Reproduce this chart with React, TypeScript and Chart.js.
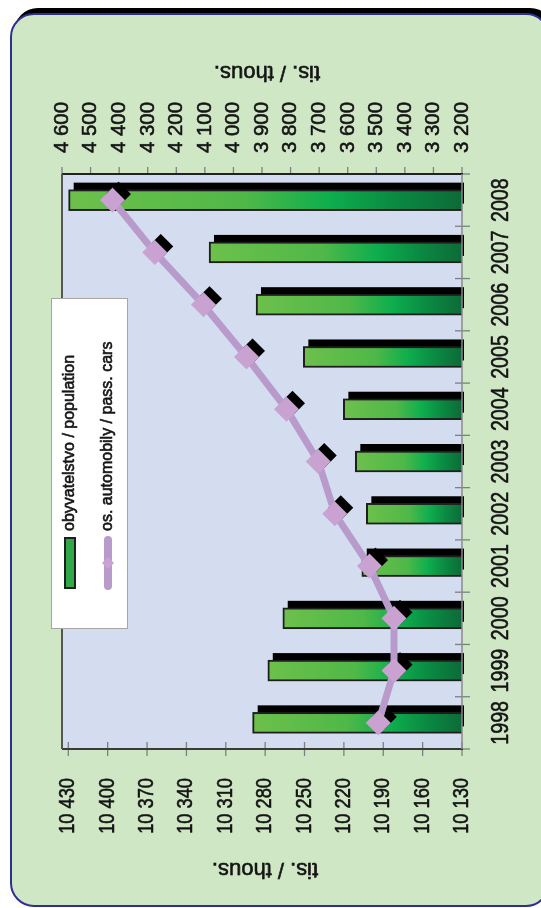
import React, { useEffect, useRef } from 'react';
import { Chart, registerables } from 'chart.js';

Chart.register(...registerables);

// ---- data ----
const years = ['1998', '1999', '2000', '2001', '2002', '2003', '2004', '2005', '2006', '2007', '2008'];
const population = [10289.5, 10278, 10266.6, 10206.4, 10202.9, 10211.3, 10220.4, 10250.9, 10287, 10322.8, 10429.7];
const passengerCars = [3493, 3438, 3438, 3524, 3645, 3703, 3814, 3954, 4105, 4275, 4423];
const populationTicks = [10130, 10160, 10190, 10220, 10250, 10280, 10310, 10340, 10370, 10400, 10430];
const carTicks = [3200, 3300, 3400, 3500, 3600, 3700, 3800, 3900, 4000, 4100, 4200, 4300, 4400, 4500, 4600];
const populationRange = [10130, 10434.8];
const carRange = [3200, 4600];
const seriesLabels = ['obyvatelstvo / population', 'os. automobily / pass. cars'];
const unitTitle = 'tis. / thous.';

// ---- layout (chart is drawn unrotated, then turned 90° counter-clockwise) ----
const W = 908;
const H = 541;
const AREA = { left: 159, right: 734, top: 62, bottom: 462 };
const REGULAR = "'Liberation Sans', Arial, sans-serif";
const TEXT = '#141414';
const LINE_COLOR = '#b99bcb';
const MARK_COLOR = '#c9a2d2';

const fmt = (v: number) => String(Math.round(v)).replace(/\B(?=(\d{3})+(?!\d))/g, ' ');

function barGradient(c: any, top: number, base: number) {
  const g = c.createLinearGradient(0, top, 0, base);
  g.addColorStop(0, '#6dc04b');
  g.addColorStop(0.45, '#4fb848');
  g.addColorStop(0.66, '#0eae4e');
  g.addColorStop(0.83, '#0a8a42');
  g.addColorStop(1, '#0d6a38');
  return g;
}

function diamond(ctx: CanvasRenderingContext2D, x: number, y: number, r: number) {
  ctx.beginPath();
  ctx.moveTo(x, y - r);
  ctx.lineTo(x + r, y);
  ctx.lineTo(x, y + r);
  ctx.lineTo(x - r, y);
  ctx.closePath();
  ctx.fill();
}

// condensed, slightly heavier text: horizontal squeeze of a regular face
function squeezedText(
  ctx: CanvasRenderingContext2D,
  text: string,
  x: number,
  y: number,
  size: number,
  sx: number,
  align: CanvasTextAlign
) {
  ctx.save();
  ctx.translate(x, y);
  ctx.scale(sx, 1);
  ctx.font = `${size}px ${REGULAR}`;
  ctx.textAlign = align;
  ctx.textBaseline = 'middle';
  ctx.fillStyle = TEXT;
  ctx.strokeStyle = TEXT;
  ctx.lineWidth = 0.6;
  ctx.fillText(text, 0, 0);
  ctx.strokeText(text, 0, 0);
  ctx.restore();
}

const decor = {
  id: 'decor',
  beforeDraw(chart: any) {
    const { ctx, chartArea: a } = chart;
    ctx.save();
    ctx.fillStyle = '#d3ddef';
    ctx.fillRect(a.left, a.top, a.right - a.left, a.bottom - a.top);
    ctx.restore();
  },
  beforeDatasetDraw(chart: any, args: any) {
    const { ctx, chartArea: a } = chart;
    const meta = args.meta;
    ctx.save();
    ctx.fillStyle = '#000';
    if (meta.type === 'bar') {
      ctx.beginPath();
      ctx.rect(a.left, a.top, a.right - a.left, a.bottom - a.top + 2);
      ctx.clip();
      meta.data.forEach((el: any) => {
        const { x, y, base, width } = el.getProps(['x', 'y', 'base', 'width'], true);
        ctx.fillRect(x - width / 2 + 7, y + 5, width, base - y);
      });
    } else if (meta.type === 'line') {
      meta.data.forEach((el: any) => {
        const { x, y } = el.getProps(['x', 'y'], true);
        diamond(ctx, x + 6, y + 6, 12.5);
      });
    }
    ctx.restore();
  },
  afterDatasetsDraw(chart: any) {
    const { ctx, chartArea: a } = chart;
    const xs = chart.scales.x;
    const yp = chart.scales.yPop;
    const yc = chart.scales.yCar;
    const seg = (x1: number, y1: number, x2: number, y2: number) => {
      ctx.beginPath();
      ctx.moveTo(x1, y1);
      ctx.lineTo(x2, y2);
      ctx.stroke();
    };
    ctx.save();
    // tick marks
    ctx.strokeStyle = '#7f7f7f';
    ctx.lineWidth = 1.3;
    const step = xs.getPixelForTick(1) - xs.getPixelForTick(0);
    for (let i = 0; i <= years.length; i++) {
      const px = xs.getPixelForTick(0) - step / 2 + i * step;
      seg(px, a.bottom - 7, px, a.bottom + 8);
    }
    yp.ticks.forEach((t: any) => {
      const py = yp.getPixelForValue(t.value);
      seg(a.left - 7, py, a.left + 7, py);
    });
    yc.ticks.forEach((t: any) => {
      const py = yc.getPixelForValue(t.value);
      seg(a.right, py, a.right + 7, py);
    });
    // plot frame
    ctx.lineWidth = 2;
    ctx.strokeStyle = '#3a3a3a';
    seg(a.left, a.top, a.left, a.bottom + 1);
    ctx.strokeStyle = '#222';
    seg(a.right, a.top, a.right, a.bottom + 1);
    ctx.strokeStyle = '#555';
    seg(a.left, a.top, a.right, a.top);
    ctx.strokeStyle = '#8a8a8a';
    ctx.lineWidth = 1.5;
    seg(a.left, a.bottom, a.right, a.bottom);
    ctx.restore();
  },
  afterDraw(chart: any) {
    const { ctx, chartArea: a } = chart;
    const xs = chart.scales.x;
    const yp = chart.scales.yPop;
    const yc = chart.scales.yCar;
    ctx.save();
    // tick labels (condensed face)
    yp.ticks.forEach((t: any) => {
      squeezedText(ctx, fmt(t.value), a.left - 29, yp.getPixelForValue(t.value), 22, 0.83, 'right');
    });
    yc.ticks.forEach((t: any) => {
      squeezedText(ctx, fmt(t.value), a.right + 21, yc.getPixelForValue(t.value), 21, 0.97, 'left');
    });
    years.forEach((y, i) => {
      squeezedText(ctx, y, xs.getPixelForValue(i), a.bottom + 39, 24, 0.82, 'center');
    });
    // axis titles
    [[39, 265], [836, 267]].forEach(([u, v]) => {
      ctx.save();
      ctx.translate(u, v);
      ctx.rotate(-Math.PI / 2);
      squeezedText(ctx, unitTitle, 0, 0, 22, 1, 'center');
      ctx.restore();
    });
    // legend
    ctx.fillStyle = '#ffffff';
    ctx.fillRect(279, 51, 330, 76);
    ctx.strokeStyle = '#a6a6a6';
    ctx.lineWidth = 1;
    ctx.strokeRect(279.5, 51.5, 330, 76);
    ctx.fillStyle = '#2fa847';
    ctx.fillRect(320, 65, 50, 10);
    ctx.strokeStyle = '#1e1e1e';
    ctx.lineWidth = 2;
    ctx.strokeRect(320, 65, 50, 10);
    ctx.strokeStyle = LINE_COLOR;
    ctx.lineWidth = 8;
    ctx.lineCap = 'round';
    ctx.beginPath();
    ctx.moveTo(322, 108);
    ctx.lineTo(368, 108);
    ctx.stroke();
    ctx.fillStyle = MARK_COLOR;
    diamond(ctx, 345, 108, 6);
    ctx.lineCap = 'butt';
    squeezedText(ctx, seriesLabels[0], 377, 70, 16, 1, 'left');
    squeezedText(ctx, seriesLabels[1], 377, 108, 16, 1, 'left');
    ctx.restore();
  },
};

export default function App() {
  const ref = useRef<HTMLCanvasElement>(null);
  useEffect(() => {
    const chart = new Chart(ref.current as HTMLCanvasElement, {
      type: 'bar',
      data: {
        labels: years,
        datasets: [
          {
            type: 'line',
            label: seriesLabels[1],
            data: passengerCars,
            yAxisID: 'yCar',
            borderColor: LINE_COLOR,
            borderWidth: 7,
            tension: 0,
            pointStyle: 'rectRot',
            pointRadius: 12.5,
            pointBackgroundColor: MARK_COLOR,
            pointBorderWidth: 0,
            order: 0,
          } as any,
          {
            type: 'bar',
            label: seriesLabels[0],
            data: population,
            yAxisID: 'yPop',
            barThickness: 21,
            borderWidth: 2,
            borderColor: '#1e1e1e',
            backgroundColor: (c: any) => {
              const sc = c.chart.scales.yPop;
              if (!sc || c.type !== 'data') return '#3aaa48';
              const top = sc.getPixelForValue(c.raw);
              const base = sc.getPixelForValue(sc.min);
              if (!isFinite(top) || !isFinite(base) || base - top < 1) return '#3aaa48';
              return barGradient(c.chart.ctx, top, base);
            },
            order: 1,
          } as any,
        ],
      },
      options: {
        responsive: false,
        animation: false,
        devicePixelRatio: 1,
        layout: { padding: { top: AREA.top, left: 0, right: 0, bottom: 0 } },
        plugins: {
          legend: { display: false },
          tooltip: { enabled: false },
          title: { display: false },
        },
        scales: {
          x: {
            type: 'category',
            position: 'bottom',
            offset: true,
            grid: { display: false, drawTicks: false },
            border: { display: false },
            ticks: { display: false, autoSkip: false },
            afterFit: (s: any) => {
              s.height = H - AREA.bottom;
            },
          },
          yPop: {
            type: 'linear',
            position: 'left',
            min: populationRange[0],
            max: populationRange[1],
            beginAtZero: false,
            grid: { display: false, drawTicks: false },
            border: { display: false },
            afterBuildTicks: (s: any) => {
              s.ticks = populationTicks.map((v) => ({ value: v }));
            },
            ticks: { display: false, autoSkip: false },
            afterFit: (s: any) => {
              s.width = AREA.left;
            },
          },
          yCar: {
            type: 'linear',
            position: 'right',
            min: carRange[0],
            max: carRange[1],
            beginAtZero: false,
            grid: { display: false, drawTicks: false },
            border: { display: false },
            afterBuildTicks: (s: any) => {
              s.ticks = carTicks.map((v) => ({ value: v }));
            },
            ticks: { display: false, autoSkip: false },
            afterFit: (s: any) => {
              s.width = W - AREA.right;
            },
          },
        },
      } as any,
      plugins: [decor],
    });
    return () => chart.destroy();
  }, []);

  return (
    <div
      style={{
        position: 'fixed',
        left: 0,
        top: 0,
        width: 541,
        height: 908,
        overflow: 'hidden',
        background: '#ffffff',
      }}
    >
      <div
        style={{
          position: 'absolute',
          left: 10,
          top: 13,
          width: 540,
          height: 894,
          boxSizing: 'border-box',
          border: '2px solid #2e3192',
          borderRadius: 24,
          background: '#d0e7c5',
          boxShadow: '4px -5px 0 0 #000',
        }}
      />
      <div
        style={{
          position: 'absolute',
          left: 0,
          top: 0,
          width: W,
          height: H,
          transformOrigin: '0 0',
          transform: `translate(0px, ${W}px) rotate(-90deg)`,
        }}
      >
        <canvas ref={ref} width={W} height={H} style={{ display: 'block', width: W, height: H }} />
      </div>
    </div>
  );
}
